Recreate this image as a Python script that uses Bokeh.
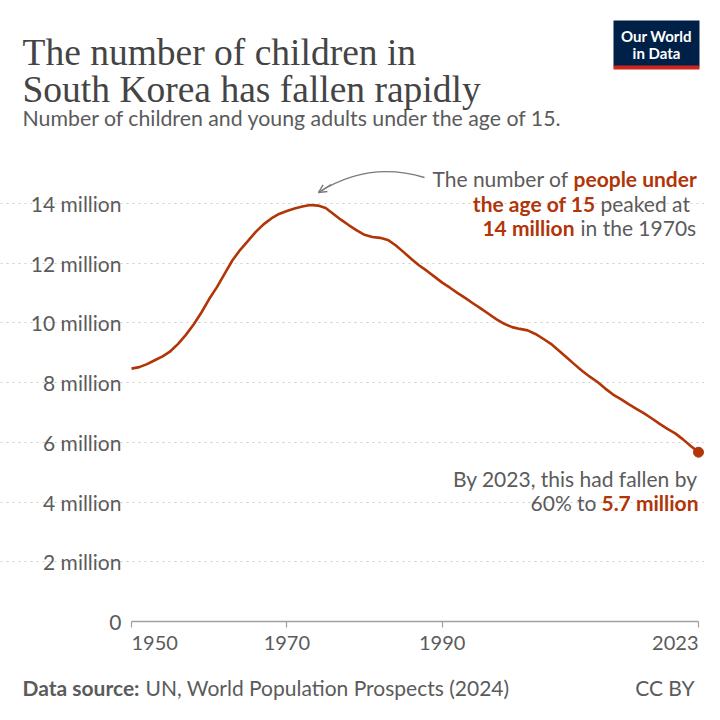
from bokeh.plotting import figure
from bokeh.models import Range1d, FixedTicker, Label, Arrow, OpenHead
from bokeh.embed import file_html
from bokeh.resources import INLINE

# ---------------- data ----------------
years = list(range(1950, 2024))
children_millions = [
    8.47, 8.52, 8.62, 8.75, 8.88, 9.05, 9.30, 9.60, 9.95, 10.35,
    10.80, 11.20, 11.65, 12.10, 12.45, 12.75, 13.05, 13.30, 13.50, 13.65,
    13.75, 13.83, 13.90, 13.95, 13.93, 13.85, 13.65, 13.45, 13.27, 13.10,
    12.95, 12.88, 12.85, 12.78, 12.60, 12.38, 12.15, 11.93, 11.75, 11.55,
    11.35, 11.18, 11.00, 10.83, 10.65, 10.48, 10.30, 10.12, 9.97, 9.86,
    9.80, 9.75, 9.63, 9.47, 9.30, 9.08, 8.85, 8.62, 8.40, 8.20,
    8.02, 7.80, 7.60, 7.45, 7.28, 7.12, 6.97, 6.80, 6.62, 6.45,
    6.30, 6.10, 5.88, 5.67,
]
x_ticks = [1950, 1970, 1990, 2023]
x_tick_labels = ["1950", "1970", "1990", "2023"]
x_tick_align = ["left", "center", "center", "right"]
y_ticks = [0, 2, 4, 6, 8, 10, 12, 14]
y_tick_labels = ["0", "2 million", "4 million", "6 million", "8 million",
                 "10 million", "12 million", "14 million"]

RED = "#b13507"
GRAY = "#5b5b5b"
TITLE = "#444444"
W = H = 704

# page-pixel <-> data mapping (the frame fills the whole canvas)
X0_PX, X1_PX = 131, 698          # pixels of 1950 and 2023
S = (X1_PX - X0_PX) / (x_ticks[-1] - x_ticks[0])   # px per year
ZERO_PX, K = 621, (621 - 203) / 14                  # px of 0 and px per million


def dx(px):
    return x_ticks[0] + (px - X0_PX) / S


def dy(py):
    return (ZERO_PX - py) / K


p = figure(width=W, height=H, output_backend="svg", toolbar_location=None,
           x_range=Range1d(dx(0), dx(W)), y_range=Range1d(dy(H), dy(0)),
           min_border=0)
p.outline_line_color = None
p.background_fill_color = "white"
p.border_fill_color = "white"

# y axis (drawn at 1950)
ya = p.yaxis[0]
ya.fixed_location = x_ticks[0]
ya.ticker = FixedTicker(ticks=y_ticks)
ya.major_label_overrides = {t: l for t, l in zip(y_ticks, y_tick_labels)}
ya.axis_line_color = None
ya.major_tick_line_color = None
ya.major_tick_out = 0
ya.major_tick_in = 0
ya.minor_tick_line_color = None
ya.major_label_standoff = 10
ya.major_label_text_font = "Lato"
ya.major_label_text_font_size = "21px"
ya.major_label_text_color = GRAY

# x axis (drawn at 0)
xa = p.xaxis[0]
xa.fixed_location = 0
xa.ticker = FixedTicker(ticks=x_ticks)
xa.bounds = (x_ticks[0], x_ticks[-1])
xa.axis_line_color = "#a0a0a0"
xa.axis_line_width = 1.5
xa.major_tick_line_color = "#a0a0a0"
xa.major_tick_line_width = 1.2
xa.major_tick_out = 6
xa.major_tick_in = 0
xa.minor_tick_line_color = None
xa.major_label_overrides = {t: "" for t in x_ticks}

p.xgrid.grid_line_color = None
p.ygrid.ticker = FixedTicker(ticks=y_ticks[1:])
p.ygrid.bounds = (x_ticks[0], dx(703))
p.ygrid.grid_line_color = "#cccccc"
p.ygrid.grid_line_dash = "2 4"
p.ygrid.grid_line_width = 1

for t, l, a in zip(x_ticks, x_tick_labels, x_tick_align):
    p.add_layout(Label(x=t, y=dy(642), text=l, text_font="Lato", text_font_size="20px",
                       text_color=GRAY, text_align=a, text_baseline="middle"))

# series
p.line(years, children_millions, line_color=RED, line_width=2.6, line_join="round")
p.scatter([years[-1]], [children_millions[-1]], size=10, fill_color=RED, line_color=RED)


def lab(text, x, y, size, color, align="left", baseline="middle", bold=False, font="Lato"):
    p.add_layout(Label(x=dx(x), y=dy(y), text=text, text_font=font, text_font_size=f"{size}px",
                       text_color=color, text_align=align, text_baseline=baseline,
                       text_font_style="bold" if bold else "normal"))


# title, subtitle
lab("The number of children in", 22, 52, 37.5, TITLE, baseline="alphabetic", font="Liberation Serif")
lab("South Korea has fallen rapidly", 22, 89, 37.5, TITLE, baseline="alphabetic", font="Liberation Serif")
lab("Number of children and young adults under the age of 15.", 22, 117, 21.3, GRAY)

# logo
p.quad(left=[dx(613)], right=[dx(699)], top=[dy(20)], bottom=[dy(66)],
       fill_color="#002147", line_color=None)
p.quad(left=[dx(613)], right=[dx(699)], top=[dy(65)], bottom=[dy(69)],
       fill_color="#ce261e", line_color=None)
lab("Our World", 656, 35, 15, "white", align="center", bold=True)
lab("in Data", 656, 52, 15, "white", align="center", bold=True)

# peak annotation
lab("The number of", 568, 178, 21, GRAY, align="right")
lab("people under", 573, 178, 21, RED, bold=True)
lab("the age of 15", 595, 203, 21, RED, align="right", bold=True)
lab("peaked at", 600, 203, 21, GRAY)
lab("14 million", 574, 227, 21, RED, align="right", bold=True)
lab("in the 1970s", 580, 227, 21, GRAY)

# end annotation
lab("By 2023, this had fallen by", 697, 478, 21, GRAY, align="right")
lab("60% to", 596, 502, 21, GRAY, align="right")
lab("5.7 million", 698, 502, 21, RED, align="right", bold=True)

# curved arrow
ARROW = "#7a7a7a"
p.quadratic(x0=[dx(424)], y0=[dy(177)], x1=[dx(318)], y1=[dy(192)],
            cx=[dx(368)], cy=[dy(160)], line_color=ARROW, line_width=1.4)
p.add_layout(Arrow(end=OpenHead(size=8, line_color=ARROW, line_width=1.4),
                   x_start=dx(330.5), y_start=dy(184), x_end=dx(318), y_end=dy(192),
                   line_color=ARROW, line_width=1.4))

# footer
lab("Data source:", 139, 687, 21, GRAY, align="right", bold=True)
lab("UN, World Population Prospects (2024)", 145, 687, 21, GRAY)
lab("CC BY", 694, 687, 21, GRAY, align="right")

open("out.html", "w").write(file_html(p, INLINE))
